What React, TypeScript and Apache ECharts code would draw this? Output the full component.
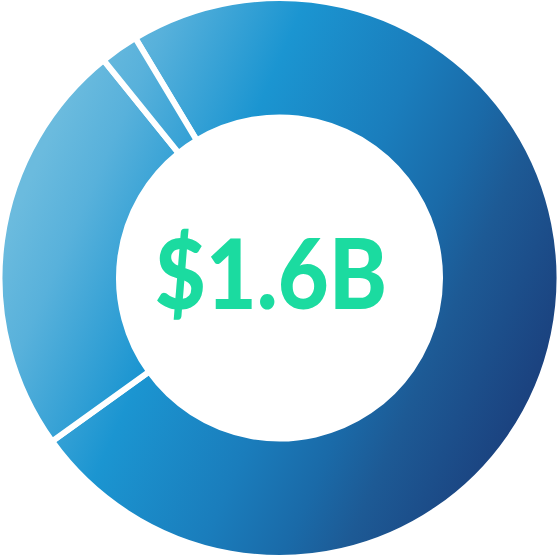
import React, { useEffect, useRef } from "react";
import * as echarts from "echarts";

const categories = ["Segment A", "Segment B", "Segment C"];
const values = [73.7, 24.1, 2.2];
const centerLabel = "$1.6B";

const gradientStops = [
  { offset: 0, color: "#6bbbde" },
  { offset: 0.1, color: "#58b1db" },
  { offset: 0.3, color: "#1b95d1" },
  { offset: 0.51, color: "#1a7dbc" },
  { offset: 0.64, color: "#1a6aa8" },
  { offset: 0.73, color: "#1d5a95" },
  { offset: 0.9, color: "#1b4380" },
  { offset: 1, color: "#1a3a75" },
];

export default function App() {
  const ref = useRef<HTMLDivElement>(null);
  useEffect(() => {
    if (!ref.current) return;
    const chart = echarts.init(ref.current, null, { renderer: "svg" });
    const fill = new echarts.graphic.LinearGradient(91, 41, 640, 284, gradientStops, true);
    chart.setOption({
      animation: false,
      backgroundColor: "#ffffff",
      series: [
        {
          type: "pie",
          center: [279.5, 278],
          radius: [160.5, 280],
          startAngle: 121,
          clockwise: true,
          label: { show: false },
          labelLine: { show: false },
          emphasis: { disabled: true },
          itemStyle: { color: fill, borderColor: "#ffffff", borderWidth: 6 },
          data: categories.map((name, i) => ({ name, value: values[i] })),
        },
      ],
      graphic: [
        {
          type: "text",
          x: 271,
          y: 272,
          scaleY: 1.1,
          style: {
            text: centerLabel,
            fill: "#1bdba0",
            font: "900 88px Lato",
            textAlign: "center",
            textVerticalAlign: "middle",
          },
        },
      ],
    });
    return () => chart.dispose();
  }, []);
  return (
    <div
      ref={ref}
      style={{ position: "absolute", left: 0, top: 0, width: 560, height: 560 }}
    />
  );
}
